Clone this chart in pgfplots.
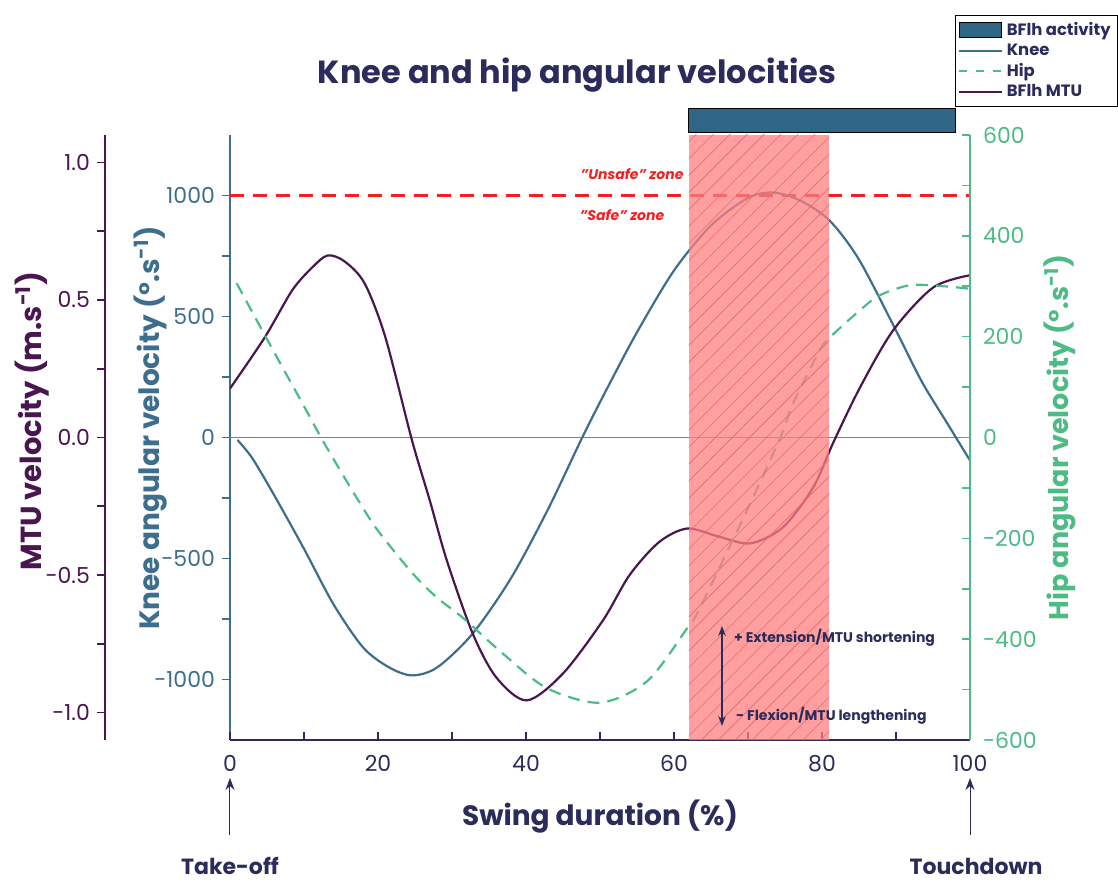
\documentclass[border=0pt]{standalone}
\usepackage{fontspec}
\setmainfont{Poppins}
\usepackage{pgfplots}
\pgfplotsset{compat=1.18}
\usetikzlibrary{patterns.meta,arrows.meta}

\definecolor{kneec}{HTML}{3E6E8E}
\definecolor{hipc}{HTML}{4CBB84}
\definecolor{mtuc}{HTML}{4A1650}
\definecolor{navy}{HTML}{2B2B5C}
\definecolor{shade}{HTML}{FF7F7F}
\definecolor{hatch}{HTML}{E66A6A}
\definecolor{actc}{HTML}{2F6585}
\definecolor{zred}{HTML}{F22020}

\pgfplotsset{
  base/.style={scale only axis, width=370pt, height=302.5pt, xmin=0, xmax=100,
    /pgf/number format/assume math mode=true, /pgf/number format/1000 sep={},
    major tick length=4pt, minor tick length=4pt,
    tick label style={font=\fontsize{11}{11}\selectfont}},
}

\begin{document}
\begin{tikzpicture}

% knee (main) axis
\begin{axis}[base, ymin=-1250, ymax=1250, hide x axis, axis y line*=left,
  tick align=outside, ytick={-1000,-500,0,500,1000}, minor y tick num=1,
  y axis line style={kneec, line width=1pt},
  ytick style={kneec, line width=0.8pt},
  yticklabel style={kneec},
  ylabel={Knee angular velocity (°.s\textsuperscript{-1})},
  ylabel style={at={(axis description cs:-0.108,0.516)}, anchor=center,
    font=\bfseries\fontsize{14}{14}\selectfont, kneec}]
\addplot[gray, line width=0.5pt] coordinates {(0,0) (100,0)};
\addplot[zred, line width=1.5pt, dash pattern=on 7pt off 4.5pt] coordinates {(0,1000) (100,1000)};
\addplot[kneec, line width=1.1pt, smooth] coordinates {
 (1,-10) (3,-85) (6,-240) (10,-460) (14,-690) (18,-868) (21.5,-950) (24.6,-983)
 (28,-950) (32.8,-810) (38,-580) (43,-295) (47.6,0) (51,205) (55,435)
 (60,690) (65,876) (70,990) (73.4,1012) (77,980) (81,897) (85,735)
 (90,442) (93.5,230) (97,55) (100,-95)};
\end{axis}

% MTU curve
\begin{axis}[base, ymin=-1.1, ymax=1.1, hide axis]
\addplot[mtuc, line width=1.1pt, smooth] coordinates {
 (0,0.178) (4.7,0.364) (8.4,0.535) (11.1,0.618) (13.2,0.662) (15.5,0.64)
 (18.2,0.56) (21,0.364) (24.6,-0.011) (27,-0.229) (29.3,-0.447) (32.8,-0.713)
 (36,-0.873) (40.1,-0.956) (45,-0.858) (50.4,-0.665) (54,-0.50) (58,-0.38)
 (61.8,-0.331) (66,-0.36) (70.3,-0.385) (74.7,-0.327) (78.8,-0.182) (81.5,-0.02)
 (85.1,0.18) (89.6,0.389) (95,0.545) (100,0.59)};
\end{axis}

% hip axis + x axis
\begin{axis}[base, ymin=-600, ymax=600, axis x line*=bottom, axis y line*=right,
  tick align=inside, ytick={-600,-400,...,600}, minor y tick num=1,
  xtick={0,20,...,100}, minor x tick num=1,
  x axis line style={navy, line width=1pt},
  y axis line style={hipc, line width=1pt},
  xtick style={navy, line width=0.8pt},
  ytick style={hipc, line width=0.8pt},
  xticklabel style={navy, yshift=-4pt},
  yticklabel style={hipc, xshift=3pt},
  xlabel={Swing duration (\%)},
  xlabel style={at={(axis description cs:0.5,-0.127)}, anchor=center,
    font=\bfseries\fontsize{14}{14}\selectfont, navy},
  ylabel={Hip angular velocity (°.s\textsuperscript{-1})},
  ylabel style={at={(axis description cs:1.1216,0.5)}, anchor=center,
    font=\bfseries\fontsize{13.5}{13.5}\selectfont, hipc}]
\addplot[hipc, line width=1.1pt, dash pattern=on 6pt off 4pt, smooth] coordinates {
 (0.9,306) (5,195) (10,62) (12.3,0) (15,-68) (17.6,-131) (20,-185) (24.7,-270)
 (28,-318) (31.5,-358) (36.9,-429) (42.8,-497) (50,-526) (56.4,-483)
 (61.8,-378) (63.1,-350) (66.6,-244) (70.3,-131) (73.4,-32) (74.7,12)
 (76.1,68) (79.7,173) (81.1,199) (85.1,252) (87.8,282) (91.9,302) (96.4,300) (100,295)};
\end{axis}

% MTU y axis (offset)
\begin{axis}[base, xshift=-62.5pt, ymin=-1.1, ymax=1.1, hide x axis, axis y line*=left,
  tick align=outside, ytick={-1,-0.5,0,0.5,1}, minor y tick num=1,
  /pgf/number format/.cd, fixed, fixed zerofill, precision=1, /pgfplots/.cd,
  y axis line style={mtuc, line width=1pt},
  ytick style={mtuc, line width=0.8pt},
  yticklabel style={mtuc},
  ylabel={MTU velocity (m.s\textsuperscript{-1})},
  ylabel style={at={(axis description cs:-0.099,0.527)}, anchor=center,
    font=\bfseries\fontsize{14.5}{14.5}\selectfont, mtuc}]
\addplot[draw=none] coordinates {(0,0)};
\end{axis}

% overlay: shaded zone, activity bar, legend
\begin{axis}[base, ymin=-1250, ymax=1250, hide axis, clip=false,
  legend style={at={(1.2,1.198)}, anchor=north east, draw=black, line width=0.4pt,
    font=\bfseries\fontsize{8.2}{9}\selectfont, text=navy, inner sep=1.5pt,
    row sep=-1.5pt, cells={anchor=west}},
  legend image code/.code={\draw[#1] (0cm,0cm) -- (0.75cm,0cm);}]
\addplot[fill=shade, draw=none, fill opacity=0.75, forget plot] coordinates {
 (62,-1250) (81,-1250) (81,1250) (62,1250)};
\addplot[draw=none, pattern={Lines[angle=45,distance=6pt,line width=0.3pt]},
  pattern color=hatch, forget plot] coordinates {
 (62,-1250) (81,-1250) (81,1250) (62,1250)};
\addplot[fill=actc, draw=black, line width=0.6pt, forget plot] coordinates {
 (62,1260) (98,1260) (98,1360) (62,1360) (62,1260)};
\addlegendimage{legend image code/.code={\draw[fill=actc, draw=black, line width=0.5pt] (0cm,-0.12cm) rectangle (0.75cm,0.14cm);}}
\addlegendentry{BFlh activity}
\addlegendimage{kneec, line width=1.1pt}
\addlegendentry{Knee}
\addlegendimage{hipc, line width=1.1pt, dash pattern=on 4pt off 4.5pt}
\addlegendentry{Hip}
\addlegendimage{mtuc, line width=1.1pt}
\addlegendentry{BFlh MTU}
\end{axis}

% annotations in reference pixel coordinates
\begin{scope}[shift={(-115pt,370pt)}, x=0.5pt, y=-0.5pt]
\path (0,0) rectangle (1118,881);
\node[font=\bfseries\fontsize{16}{16}\selectfont, navy] at (577,75) {Knee and hip angular velocities};
\node[font=\bfseries\itshape\fontsize{7}{7}\selectfont, zred] at (632,174) {"Unsafe" zone};
\node[font=\bfseries\itshape\fontsize{7}{7}\selectfont, zred] at (622,215) {"Safe" zone};
\draw[navy, line width=0.6pt, {Stealth[length=5pt]}-{Stealth[length=5pt]}] (722,626) -- (722,726);
\node[font=\bfseries\fontsize{7}{8}\selectfont, navy, anchor=west] at (727,638) {+ Extension/MTU shortening};
\node[font=\bfseries\fontsize{7}{8}\selectfont, navy, anchor=west] at (729,716) {- Flexion/MTU lengthening};
\draw[navy, line width=0.5pt, -{Stealth[length=6pt]}] (230,835) -- (230,778);
\draw[navy, line width=0.5pt, -{Stealth[length=6pt]}] (970,835) -- (970,778);
\node[font=\bfseries\fontsize{11}{11}\selectfont, navy] at (230,866) {Take-off};
\node[font=\bfseries\fontsize{11}{11}\selectfont, navy] at (976,866) {Touchdown};
\end{scope}

\end{tikzpicture}
\end{document}
